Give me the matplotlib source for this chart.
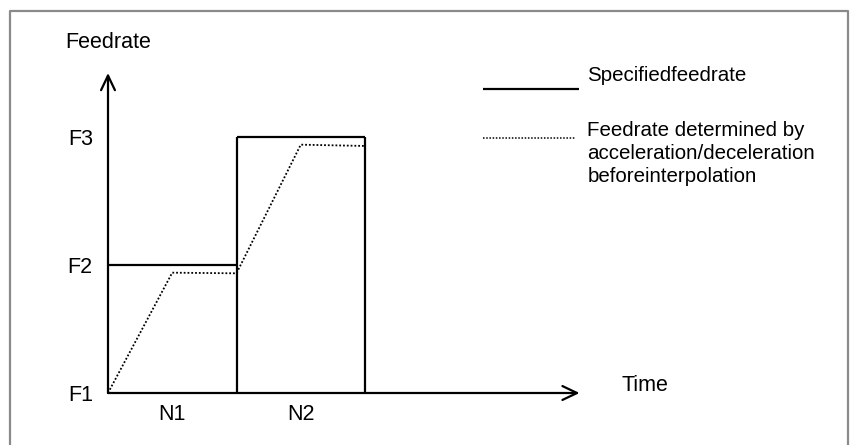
import matplotlib
matplotlib.use("Agg")
import matplotlib.pyplot as plt
from matplotlib.lines import Line2D

plt.rcParams['font.family'] = ['Liberation Sans', 'DejaVu Sans']

# Feedrate levels (F1 is the baseline)
level_names = ["F1", "F2", "F3"]
level_values = [0.0, 1.0, 2.0]

# Blocks and their specified feedrates
block_names = ["N1", "N2"]
block_edges = [0.0, 1.0, 2.0]
block_feed = [1.0, 2.0]

# Feedrate after acceleration/deceleration before interpolation
accel_t = [0.0, 0.5, 1.0, 1.5, 2.0]
accel_f = [0.0, 0.94, 0.935, 1.94, 1.93]

# Axis extents
time_axis_end = 3.67
feed_axis_end = 2.5

legend_labels = ["Specifiedfeedrate",
                 ["Feedrate determined by",
                  "acceleration/deceleration",
                  "beforeinterpolation"]]

fig = plt.figure(figsize=(8.5, 4.45), dpi=100)
ax = fig.add_axes([0, 0, 1, 1])
ax.set_xlim(-108 / 128.5, (850 - 108) / 128.5)
ax.set_ylim(-(445 - 393) / 128.0, 393 / 128.0)
ax.axis("off")

# Outer frame (open at the bottom)
fx0, fx1 = 9.5 / 850, 847.5 / 850
fy1 = 1 - 10.5 / 445
frame_kw = dict(color="#8a8a8a", lw=1.6, transform=fig.transFigure, solid_capstyle="projecting")
fig.add_artist(Line2D([fx0, fx0, fx1, fx1], [-0.05, fy1, fy1, -0.05], **frame_kw))

LW = 1.6
arrow_style = "->,head_length=1.05,head_width=0.5"

# Axes with open arrow heads
ax.annotate("", xy=(0, feed_axis_end), xytext=(0, 0),
            arrowprops=dict(arrowstyle=arrow_style, lw=LW, color="black",
                            shrinkA=0, shrinkB=0, mutation_scale=10))
ax.annotate("", xy=(time_axis_end, 0), xytext=(0, 0),
            arrowprops=dict(arrowstyle=arrow_style, lw=LW, color="black",
                            shrinkA=0, shrinkB=0, mutation_scale=10))

# Specified feedrate: one level per block, with block boundaries
for i, f in enumerate(block_feed):
    ax.plot([block_edges[i], block_edges[i + 1]], [f, f], color="black", lw=LW,
            solid_capstyle="butt")
for i, t in enumerate(block_edges[1:], start=1):
    top = max(block_feed[i - 1], block_feed[i] if i < len(block_feed) else 0)
    ax.plot([t, t], [0, top], color="black", lw=LW, solid_capstyle="butt")

# Feedrate with acceleration/deceleration before interpolation
ax.plot(accel_t, accel_f, color="black", lw=1.3, linestyle=(0, (1, 1.1)),
        dash_capstyle="butt")

fs = 15.5
# Axis titles
ax.text(0, 2.735, "Feedrate", ha="center", va="center", fontsize=fs)
ax.text(3.995, 0.06, "Time", ha="left", va="center", fontsize=fs)

# Feedrate level labels
for name, v in zip(level_names, level_values):
    ax.text(-0.118, v - 0.02, name, ha="right", va="center", fontsize=fs)

# Block labels
for i, name in enumerate(block_names):
    ax.text((block_edges[i] + block_edges[i + 1]) / 2, -0.168, name,
            ha="center", va="center", fontsize=fs)

# Legend
lfs = 14.8
lx0, lx1 = 2.918, 3.665
tx = 3.73
ax.plot([lx0, lx1], [2.375, 2.375], color="black", lw=LW, solid_capstyle="butt")
ax.text(tx, 2.4375, legend_labels[0], ha="left", va="baseline", fontsize=lfs)
ax.plot([lx0, lx1 - 0.02], [1.992, 1.992], color="black", lw=1.1,
        linestyle=(0, (1, 1.1)), dash_capstyle="butt")
for k, line in enumerate(legend_labels[1]):
    ax.text(tx, 2.008 - k * 0.18, line, ha="left", va="baseline", fontsize=lfs)

fig.savefig("out.png", dpi=100)
